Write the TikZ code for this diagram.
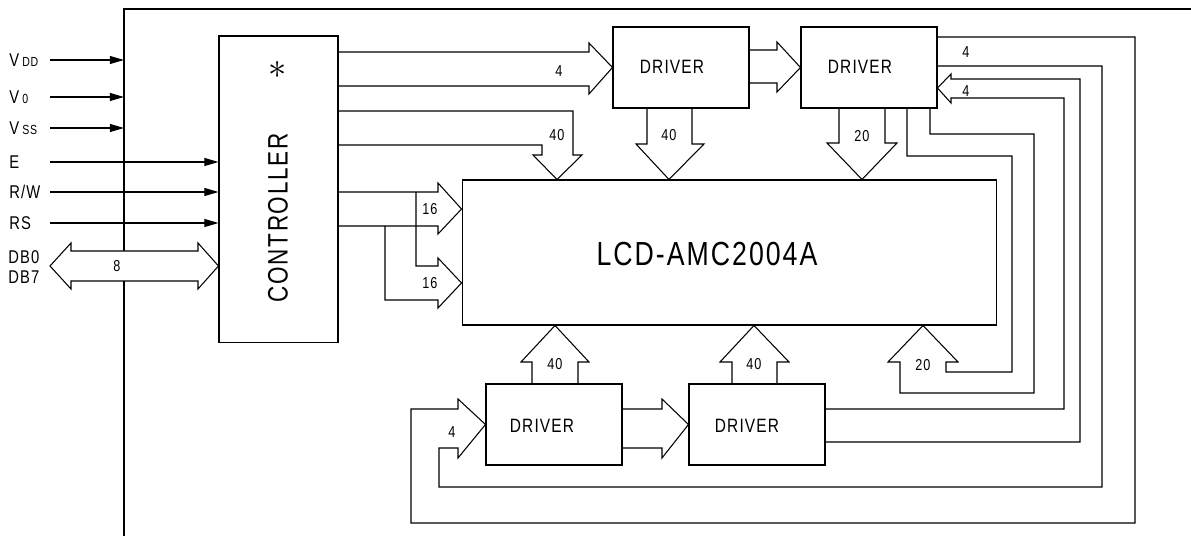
\documentclass[tikz,border=0pt]{standalone}
\usepackage{fontspec}
\setmainfont{Liberation Sans}[FakeStretch=0.8,LetterSpace=6]
\usetikzlibrary{arrows.meta}
\tikzset{box/.style={draw, line width=0.6pt, inner sep=0pt},
	wire/.style={line width=0.6pt},
	bus/.style={line width=0.6pt, line join=miter},
	sig/.style={line width=0.6pt, -{Triangle[length=8pt,width=4.5pt]}},
	num/.style={inner sep=0pt, font=\fontsize{9}{9}\selectfont},
	pin/.style={inner sep=0pt, anchor=west, font=\fontsize{10.5}{10.5}\selectfont},
	drvtext/.style={inner sep=0pt, font=\fontsize{11}{11}\selectfont}}

\begin{document}
\begin{tikzpicture}[x=0.02cm, y=-0.02cm]
		\useasboundingbox (0,0) rectangle (1191,536);
		% frame
		\coordinate (ftop) at (124,9);
		\draw[wire] (124,536) -- (ftop) -- (1191,9);
		\node[box, minimum width=2.38cm, minimum height=6.14cm] (ctrl) at (278.5,189.5){};
		\node[rotate=90, inner sep=0pt, font=\fontsize{16}{16}\selectfont] (ctrltxt) at (278,218){CONTROLLER};
		\node[inner sep=0pt, font=\fontsize{22}{22}\selectfont] (star) at (278,70){$\ast$};
		\node[box, minimum width=2.72cm, minimum height=1.62cm] (drv1) at (681,67.5){};
		\node[box, minimum width=2.72cm, minimum height=1.62cm] (drv2) at (869,67.5){};
		\node[box, minimum width=2.72cm, minimum height=1.62cm] (drv3) at (554,424.5){};
		\node[box, minimum width=2.72cm, minimum height=1.62cm] (drv4) at (757,424.5){};
		\node[drvtext] (drv1txt) at (672,67){DRIVER};
		\node[drvtext] (drv2txt) at (860,67){DRIVER};
		\node[drvtext] (drv3txt) at (542,426){DRIVER};
		\node[drvtext] (drv4txt) at (747,426){DRIVER};
		\node[box, minimum width=10.7cm, minimum height=2.9cm] (lcd) at (729.5,252.5){};
		\node[inner sep=0pt, font=\fontsize{19}{19}\selectfont] (lcdtxt) at (707,254){LCD-AMC2004A};
		% inputs
		\node[pin] (vdd) at (9,60){V\,{\fontsize{7.5}{7.5}\selectfont DD}};
		\node[pin] (vo) at (9,97){V\,{\fontsize{7.5}{7.5}\selectfont 0}};
		\node[pin] (vss) at (9,128){V\,{\fontsize{7.5}{7.5}\selectfont SS}};
		\node[pin] (e) at (9,162){E};
		\node[pin] (rw) at (9,192){R/W};
		\node[pin] (rs) at (9,223){RS};
		\node[pin] (db0) at (8,257){DB0};
		\node[pin] (db7) at (8,277){DB7};
		\coordinate (vddin) at (50,60);
		\coordinate (voin) at (50,97);
		\coordinate (vssin) at (50,128);
		\coordinate (ein) at (50,162);
		\coordinate (rwin) at (50,192);
		\coordinate (rsin) at (50,223);
		\draw[sig] (vddin) -- (vddin -| ftop);
		\draw[sig] (voin) -- (voin -| ftop);
		\draw[sig] (vssin) -- (vssin -| ftop);
		\draw[sig] (ein) -- (ein -| ctrl.west);
		\draw[sig] (rwin) -- (rwin -| ctrl.west);
		\draw[sig] (rsin) -- (rsin -| ctrl.west);
		\draw[bus, fill=white] (50,266) -- (71,243) -- (71,251) -- (198,251) -- (198,243) -- (ctrl.west |- 0,266)
			-- (198,289) -- (198,281) -- (71,281) -- (71,289) -- cycle;
		\node[num] (n8) at (117,266){8};
		% controller to drivers and lcd
		\draw[bus] (ctrl.east |- 0,52) -- (589,52) -- (589,43) -- (drv1.west) -- (589,94) -- (589,86) -- (ctrl.east |- 0,86);
		\node[num] (n4a) at (559,71){4};
		\draw[bus] (ctrl.east |- 0,111) -- (573,111) -- (573,155) -- (582,155) -- (lcd.north -| 557,0) -- (533,155)
			-- (542,155) -- (542,145) -- (ctrl.east |- 0,145);
		\node[num] (n40a) at (557,135){40};
		\draw[bus] (ctrl.east |- 0,192) -- (438,192) -- (438,183) -- (lcd.west |- 0,209) -- (438,234) -- (438,226) -- (ctrl.east |- 0,226);
		\draw[bus] (416,192) -- (416,266) -- (438,266) -- (438,258) -- (lcd.west |- 0,283) -- (438,308) -- (438,300) -- (385,300) -- (385,226);
		\node[num] (n16a) at (430,209){16};
		\node[num] (n16b) at (430,283){16};
		% upper drivers
		\draw[bus] (drv1.east |- 0,50) -- (777,50) -- (777,42) -- (drv2.west) -- (777,92) -- (777,83) -- (drv1.east |- 0,83);
		\draw[bus] (drv1.south -| 647,0) -- (647,144) -- (636,144) -- (lcd.north -| 669,0) -- (704,144) -- (692,144) -- (drv1.south -| 692,0);
		\node[num] (n40b) at (669,135){40};
		\draw[bus] (drv2.south -| 839,0) -- (839,143) -- (827,143) -- (lcd.north -| 862,0) -- (897,143) -- (885,143) -- (drv2.south -| 885,0);
		\node[num] (n20a) at (862,136){20};
		% lower drivers
		\draw[bus] (drv3.east |- 0,409) -- (662,409) -- (662,399) -- (drv4.west) -- (662,458) -- (662,448) -- (drv3.east |- 0,448);
		\draw[bus] (drv3.north -| 532,0) -- (532,362) -- (521,362) -- (lcd.south -| 555,0) -- (589,362) -- (578,362) -- (drv3.north -| 578,0);
		\node[num] (n40c) at (555,364){40};
		\draw[bus] (drv4.north -| 732,0) -- (732,362) -- (720,362) -- (lcd.south -| 754,0) -- (789,362) -- (777,362) -- (drv4.north -| 777,0);
		\node[num] (n40d) at (754,364){40};
		% return loops
		\draw[bus] (drv2.east |- 0,37) -- (1135,37) -- (1135,523) -- (411,523) -- (411,409) -- (458,409) -- (458,399)
			-- (drv3.west) -- (458,458) -- (458,448) -- (439,448) -- (439,487) -- (1102,487) -- (1102,66) -- (drv2.east |- 0,66);
		\node[num] (n4b) at (966,52){4};
		\node[num] (n4c) at (452,432){4};
		\draw[bus] (drv4.east |- 0,409) -- (1064,409) -- (1064,98) -- (951,98) -- (951,103) -- (drv2.east |- 0,88)
			-- (951,74) -- (951,79) -- (1080,79) -- (1080,442) -- (drv4.east |- 0,442);
		\node[num] (n4d) at (966,91){4};
		\draw[bus] (drv2.south -| 907,0) -- (907,156) -- (1012,156) -- (1012,372) -- (946,372) -- (946,362) -- (958,362)
			-- (lcd.south -| 923,0) -- (888,362) -- (900,362) -- (900,393) -- (1034,393) -- (1034,134) -- (930,134) -- (drv2.south -| 930,0);
		\node[num] (n20b) at (923,365){20};
\end{tikzpicture}
\end{document}
